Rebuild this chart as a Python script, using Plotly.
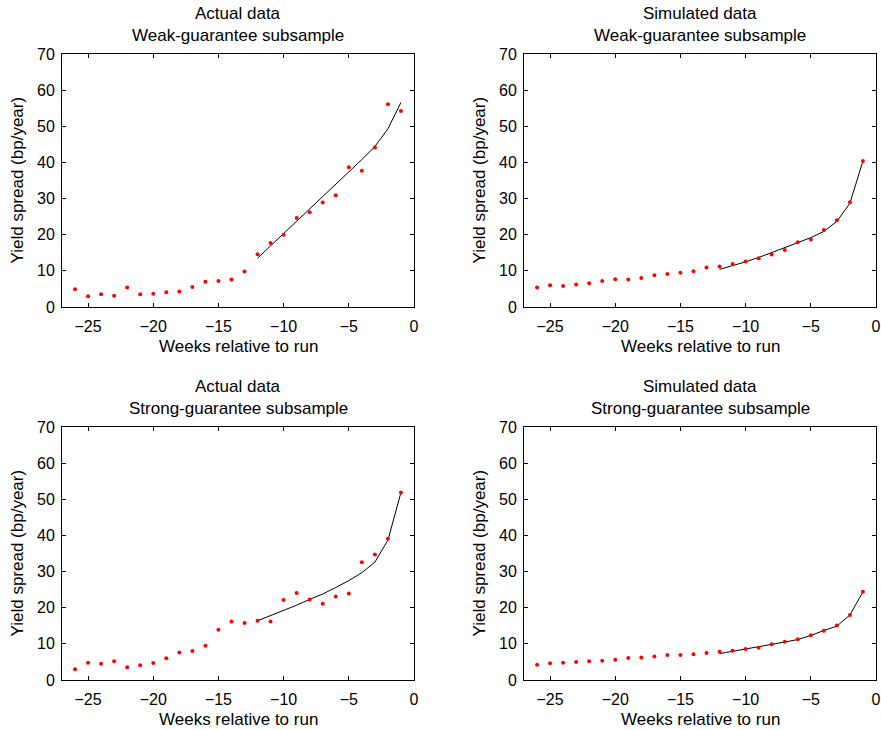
import plotly.graph_objects as go

weeks = list(range(-26, 0))
line_weeks = list(range(-12, 0))

actual_weak = [4.9, 3.0, 3.5, 3.1, 5.4, 3.5, 3.7, 4.1, 4.3, 5.5, 7.0, 7.2, 7.6, 9.8,
               14.6, 17.7, 20.0, 24.6, 26.2, 28.9, 30.9, 38.7, 37.7, 44.1, 56.1, 54.2]
actual_weak_fit = [13.5, 16.9, 20.3, 23.7, 27.1, 30.5, 33.9, 37.3, 40.8, 44.4, 49.3, 56.6]

sim_weak = [5.4, 6.0, 5.8, 6.2, 6.6, 7.2, 7.7, 7.6, 8.0, 8.8, 9.1, 9.5, 9.9, 10.9,
            11.2, 11.9, 12.6, 13.5, 14.5, 15.8, 17.9, 18.7, 21.3, 24.0, 29.0, 40.4]
sim_weak_fit = [10.4, 11.4, 12.5, 13.7, 15.0, 16.3, 17.8, 19.2, 20.9, 23.7, 28.7, 40.4]

actual_strong = [3.0, 4.8, 4.5, 5.2, 3.5, 4.1, 4.7, 6.0, 7.6, 8.0, 9.5, 13.9, 16.2, 15.8,
                 16.4, 16.2, 22.1, 24.1, 22.3, 21.1, 23.1, 23.9, 32.6, 34.7, 39.1, 51.9]
actual_strong_fit = [16.4, 17.8, 19.2, 20.7, 22.3, 23.8, 25.6, 27.5, 29.7, 32.6, 38.7, 51.9]

sim_strong = [4.2, 4.6, 4.8, 5.0, 5.2, 5.3, 5.6, 6.1, 6.2, 6.5, 6.9, 6.9, 7.1, 7.5,
              7.8, 8.1, 8.6, 8.9, 9.9, 10.6, 11.3, 12.4, 13.6, 15.1, 18.0, 24.4]
sim_strong_fit = [7.3, 7.9, 8.6, 9.2, 9.9, 10.5, 11.2, 12.3, 13.7, 14.9, 18.0, 24.4]

x_ticks = [-25, -20, -15, -10, -5, 0]
y_ticks = [0, 10, 20, 30, 40, 50, 60, 70]
x_label = "Weeks relative to run"
y_label = "Yield spread (bp/year)"
titles = [("Actual data", "Weak-guarantee subsample"),
          ("Simulated data", "Weak-guarantee subsample"),
          ("Actual data", "Strong-guarantee subsample"),
          ("Simulated data", "Strong-guarantee subsample")]
panels = [(actual_weak, actual_weak_fit), (sim_weak, sim_weak_fit),
          (actual_strong, actual_strong_fit), (sim_strong, sim_strong_fit)]

W, H = 881, 730
xpix = [(62, 414), (524, 876)]
ypix = [(54, 307), (427, 680)]
xdoms = [(a / W, b / W) for a, b in xpix]
ydoms = [(1 - b / H, 1 - a / H) for a, b in ypix]

FONT = "Liberation Sans, Arial, sans-serif"
FS = 16
TFS = 17
fig = go.Figure()
annotations = []
for i, (pts, fit) in enumerate(panels):
    r, c = divmod(i, 2)
    ax = "" if i == 0 else str(i + 1)
    xa, ya = "x" + ax, "y" + ax
    fig.add_trace(go.Scatter(x=line_weeks, y=fit, mode="lines",
                             line=dict(color="black", width=1),
                             xaxis=xa, yaxis=ya, showlegend=False))
    fig.add_trace(go.Scatter(x=weeks, y=pts, mode="markers",
                             marker=dict(color="red", size=4),
                             xaxis=xa, yaxis=ya, showlegend=False))
    common = dict(showgrid=False, zeroline=False, showline=True, linecolor="black",
                  linewidth=1, mirror="ticks", ticks="inside", ticklen=4,
                  tickcolor="black", automargin=False,
                  tickfont=dict(family=FONT, size=FS, color="black"))
    fig.layout["xaxis" + ax] = dict(domain=list(xdoms[c]), range=[-27, 0],
                                    tickvals=x_ticks, anchor=ya,
                                    ticklabelstandoff=5, **common)
    fig.layout["yaxis" + ax] = dict(domain=list(ydoms[r]), range=[0, 70],
                                    tickvals=y_ticks, anchor=xa,
                                    ticklabelstandoff=3, **common)
    xc = (xdoms[c][0] + xdoms[c][1]) / 2
    yc = (ydoms[r][0] + ydoms[r][1]) / 2
    for line_text, shift in ((titles[i][0], 41), (titles[i][1], 19)):
        annotations.append(dict(x=xc, y=ydoms[r][1], xref="paper", yref="paper",
                                xanchor="center", yanchor="middle", yshift=shift,
                                text=line_text, showarrow=False,
                                font=dict(family=FONT, size=TFS, color="black")))
    annotations.append(dict(x=xc, y=ydoms[r][0], xref="paper", yref="paper",
                            xanchor="center", yanchor="middle", yshift=-39,
                            text=x_label, showarrow=False,
                            font=dict(family=FONT, size=TFS, color="black")))
    annotations.append(dict(x=xdoms[c][0], y=yc, xref="paper", yref="paper",
                            xanchor="center", yanchor="middle", xshift=-45,
                            text=y_label, textangle=-90, showarrow=False,
                            font=dict(family=FONT, size=TFS, color="black")))

fig.update_layout(width=W, height=H, margin=dict(l=0, r=0, t=0, b=0),
                  paper_bgcolor="white", plot_bgcolor="white",
                  annotations=annotations, font=dict(family=FONT, color="black"))
fig.write_html("out.html", config={"displayModeBar": False},
               post_script="document.body.style.margin='0';document.body.style.overflow='hidden';")
